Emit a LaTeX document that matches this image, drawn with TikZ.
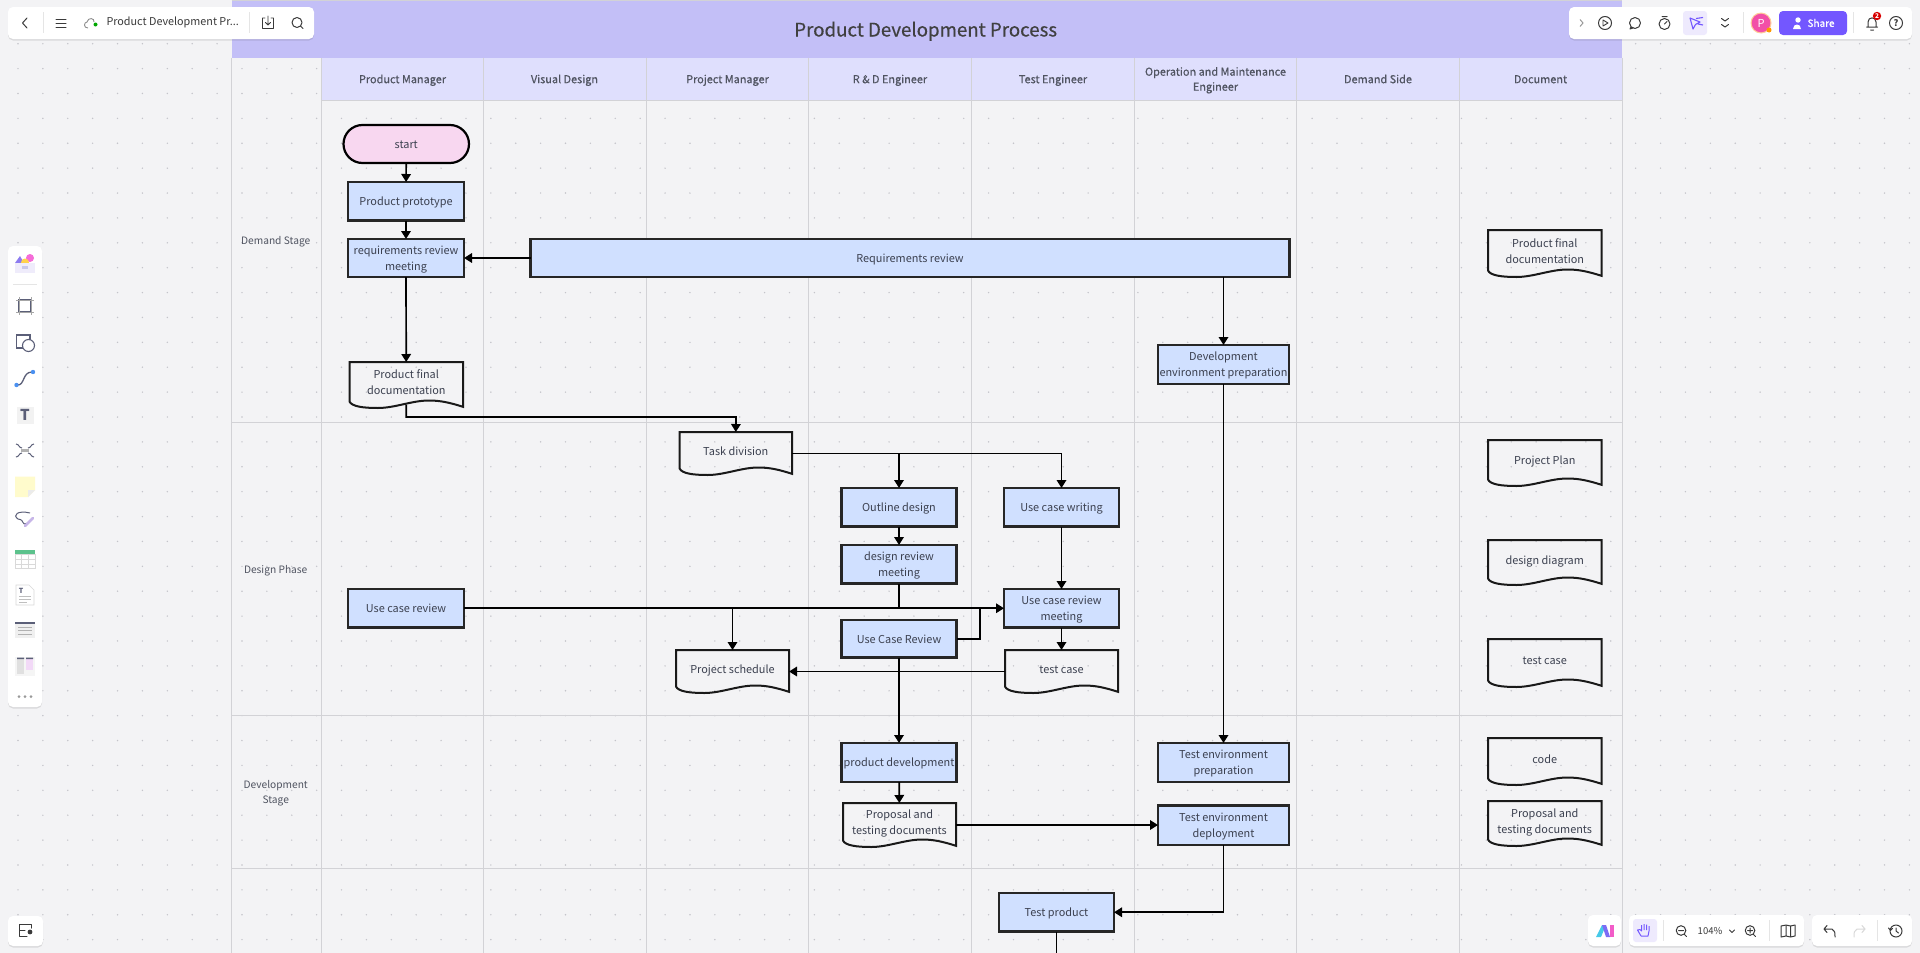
\documentclass[tikz,border=0pt]{standalone}
\usepackage{fontspec}
\setmainfont{Noto Sans CJK SC}
\newfontfamily\medf[FakeBold=0.5]{Noto Sans CJK SC}
\usetikzlibrary{arrows.meta,calc,shadows}
\definecolor{bgc}{HTML}{F3F3F5}
\definecolor{titlec}{HTML}{C3BFF7}
\definecolor{headc}{HTML}{DFDFFD}
\definecolor{gridc}{HTML}{D2D2D6}
\definecolor{dotc}{HTML}{C4C4CA}
\definecolor{boxc}{HTML}{D0E0FF}
\definecolor{startc}{HTML}{F8D7F0}
\definecolor{txtc}{HTML}{3C4150}
\definecolor{iconc}{HTML}{3A3A3A}
\definecolor{purp}{HTML}{7357FF}
\definecolor{pale}{HTML}{EEEAFD}
\definecolor{iconb}{HTML}{5B5F78}
\definecolor{cavatar}{HTML}{F24FA7}
\definecolor{cviolet}{HTML}{8C7BF0}
\definecolor{cpink}{HTML}{F56CD8}
\definecolor{cyell}{HTML}{FFD24C}
\definecolor{cpalette}{HTML}{EFECFB}
\definecolor{cpalin}{HTML}{C9C8EA}
\definecolor{cblue}{HTML}{4A90F0}
\definecolor{csticky}{HTML}{FFFBCC}
\definecolor{cpen}{HTML}{C7B6E8}
\definecolor{cgreen}{HTML}{5CC28C}
\definecolor{clilac}{HTML}{F2D9F7}
\definecolor{ccyan}{HTML}{46C9E8}
\definecolor{cindigo}{HTML}{7C6CF5}
\definecolor{cmag}{HTML}{F25CC8}
\newcommand{\tl}[1]{\raisebox{-1.2pt}[\height][\depth]{\begin{tabular}{@{}c@{}}#1\end{tabular}}}
\tikzset{
  base/.style={inner sep=0pt,outer sep=0pt,text=txtc,align=center,font=\fontsize{10.9}{16}\selectfont},
  flowbox/.style={base,draw=black!85,line width=2.2pt,fill=boxc},
  startbox/.style={base,draw=black,line width=2.2pt,fill=startc,rounded corners=19pt},
  docbox/.style={base},
  docline/.style={draw=black!90,line width=2pt,line join=miter},
  link/.style={draw=black,line width=1.7pt},
  arrowlink/.style={link,-{Triangle[length=8pt,width=9.5pt]}},
  pool/.style={draw=gridc,line width=1pt},
  head/.style={base,text=txtc!90,font=\medf\fontsize{10.9}{15}\selectfont},
  lane/.style={base,text=txtc!90,font=\fontsize{10.2}{15}\selectfont},
  panel/.style={fill=white,rounded corners=5pt,draw=none,drop shadow={shadow xshift=0pt,shadow yshift=-1.5pt,opacity=.10,fill=black}},
  ico/.style={draw=iconc,line width=1pt,line cap=round,line join=round},
  sep/.style={draw=black!10,line width=.8pt},
  uitext/.style={inner sep=0pt,outer sep=0pt,text=iconc},
}
% name, x1, y1, x2, y2, text
\newcommand{\boxnode}[7][flowbox]{%
  \pgfmathsetmacro{\cxx}{(#3+#5)/2}\pgfmathsetmacro{\cyy}{(#4+#6)/2}%
  \pgfmathsetmacro{\www}{#5-#3}\pgfmathsetmacro{\hhh}{#6-#4}%
  \node[#1,minimum width=\www pt,minimum height=\hhh pt] (#2) at (\cxx,\cyy) {\tl{#7}};}
\newcommand{\docnode}[6]{%
  \pgfmathsetmacro{\cxx}{(#2+#4)/2}\pgfmathsetmacro{\cyy}{(#3+#5)/2}%
  \pgfmathsetmacro{\www}{#4-#2}\pgfmathsetmacro{\hhh}{#5-#3}%
  \node[docbox,minimum width=\www pt,minimum height=\hhh pt] (#1) at (\cxx,\cyy)
     {\tl{#6\\[5pt]}};
  \draw[docline] (#1.north west) -- (#1.north east) -- ($(#1.south east)+(0,-1.2)$)
    .. controls ($(#1.south east)+(-.12*\www,-5.5)$) and ($(#1.south east)+(-.2*\www,-7.5)$) .. ($(#1.south)+(.2*\www,-7.5)$)
    .. controls ($(#1.south)+(.05*\www,-7.5)$) and ($(#1.south)+(-.1*\www,0)$) .. ($(#1.south west)+(.25*\www,0)$)
    .. controls ($(#1.south west)+(.12*\www,0)$) and ($(#1.south west)+(.02*\www,-1.5)$) .. ($(#1.south west)+(0,-6.5)$)
    -- cycle;
  \coordinate (#1b) at ($(#1.south)+(0,-3.5)$);}
\begin{document}
\begin{tikzpicture}[x=1pt,y=-1pt]
\useasboundingbox (0,0) rectangle (1920,953);
\clip (0,0) rectangle (1920,953);
\fill[bgc] (0,0) rectangle (1920,953);
% dot grid
\foreach \i in {0,...,76}{\foreach \j in {0,...,37}{
  \fill[dotc] ({18+24.887*\i},{43.7+24.887*\j-24.887}) circle (.8pt);}}
% title and header bands
\fill[titlec] (231.5,0) rectangle (1622,57.5);
\fill[headc] (321.5,57.5) rectangle (1622,100.5);
\draw[gridc,line width=1pt] (231.5,.5) -- (1622,.5);
% pool lines
\foreach \x in {231.5,321.5,483.7,646.5,808.8,971.7,1134,1296.7,1459.6,1622}
  \draw[pool] (\x,57.5) -- (\x,953);
\foreach \y in {422.5,715,868.5} \draw[pool] (231.5,\y) -- (1622,\y);
\draw[pool] (321.5,100.5) -- (1622,100.5);
% title
\node[base,text=black!75,font=\medf\fontsize{18.7}{24}\selectfont] (title) at (925.7,30.5) {\tl{Product Development Process}};
% headers
\node[head] (h1) at (402.5,79) {\tl{Product Manager}};
\node[head] (h2) at (564.5,79) {\tl{Visual Design}};
\node[head] (h3) at (727.5,79) {\tl{Project Manager}};
\node[head] (h4) at (890,79) {\tl{R \& D Engineer}};
\node[head] (h5) at (1053,79) {\tl{Test Engineer}};
\node[head] (h6) at (1215.5,79) {\tl{Operation and Maintenance\\Engineer}};
\node[head] (h7) at (1378,79) {\tl{Demand Side}};
\node[head] (h8) at (1540.5,79) {\tl{Document}};
% lanes
\node[lane] (l1) at (275.7,240) {\tl{Demand Stage}};
\node[lane] (l2) at (275.7,569) {\tl{Design Phase}};
\node[lane] (l3) at (275.7,791.5) {\tl{Development\\Stage}};
% flow nodes
\boxnode[startbox]{start}{343.5}{125}{469}{163}{start}
\boxnode{proto}{348}{182}{464}{220.5}{Product prototype}
\boxnode{reqm}{348}{239}{464}{277}{requirements review\\meeting}
\boxnode{rev}{530.5}{239}{1289.5}{277}{Requirements review}
\docnode{pfd}{349.5}{362}{463}{408}{Product final\\documentation}
\boxnode{dev}{1158}{345}{1289}{384}{Development\\environment preparation}
\docnode{task}{679.6}{432}{792}{475}{Task division}
\boxnode{outl}{841.5}{488}{956.5}{526.5}{Outline design}
\boxnode{ucw}{1004}{488}{1119}{526.5}{Use case writing}
\boxnode{drm}{841.5}{545}{956.5}{583.5}{design review\\meeting}
\boxnode{ucr}{348}{589}{464}{627.5}{Use case review}
\boxnode{ucm}{1004}{589}{1119}{627.5}{Use case review\\meeting}
\boxnode{ucb}{841.5}{620}{956.5}{657.5}{Use Case Review}
\docnode{ps}{676}{650}{789}{693}{Project schedule}
\docnode{tc}{1005}{650}{1118}{693}{test case}
\boxnode{pd}{841.5}{743}{956.5}{782}{product development}
\docnode{ptd}{843}{803}{956}{847}{Proposal and\\testing documents}
\boxnode{tep}{1158}{743}{1289}{782}{Test environment\\preparation}
\boxnode{ted}{1158}{805.5}{1289}{845}{Test environment\\deployment}
\boxnode{tp}{999}{893}{1114}{931.5}{Test product}
% document column
\docnode{d1}{1488}{230}{1601.5}{277}{Product final\\documentation}
\docnode{d2}{1488}{440}{1601.5}{486}{Project Plan}
\docnode{d3}{1488}{540}{1601.5}{585}{design diagram}
\docnode{d4}{1488}{639}{1601.5}{687}{test case}
\docnode{d5}{1488}{738}{1601.5}{785}{code}
\docnode{d6}{1488}{801}{1601.5}{846}{Proposal and\\testing documents}
% connectors
\coordinate (pfdturn) at (736,417);
\coordinate (ucbturn) at (980,638.8);
\coordinate (tpout) at (1056.5,966);
\draw[arrowlink] (start) -- (proto);
\draw[arrowlink] (proto) -- (reqm);
\draw[arrowlink] (rev.west) -- (reqm.east);
\draw[arrowlink] (reqm) -- (pfd);
\draw[arrowlink] (rev.south -| dev.north) -- (dev.north);
\draw[arrowlink] (pfdb) |- (pfdturn) -- (task.north);
\draw[arrowlink] (task.east) -| (outl.north);
\draw[arrowlink] (task.east) -| (ucw.north);
\draw[arrowlink] (outl) -- (drm);
\draw[arrowlink] (ucw) -- (ucm);
\draw[arrowlink] (ucr.east) -- (ucm.west);
\draw[link] (drm.south) -- (drm.south |- ucm.west);
\draw[arrowlink] (ps.north |- ucm.west) -- (ps.north);
\draw[link] (ucb.east |- ucbturn) -- (ucbturn) -- (ucbturn |- ucm.west);
\draw[arrowlink] (ucm) -- (tc);
\draw[arrowlink] (tc.west) -- (ps.east);
\draw[arrowlink] (ucb) -- (pd);
\draw[arrowlink] (pd) -- (ptd);
\draw[arrowlink] (ptd.east) -- (ptd.east -| ted.west);
\draw[arrowlink] (dev) -- (tep);
\draw[arrowlink] (ted.south) |- (tp.east);
\draw[arrowlink] (tp.south) -- (tpout);
% ------------ UI chrome ------------
\fill[panel] (8,7) rectangle (314,39);
\fill[panel] (1569,7) rectangle (1912,39);
\fill[panel] (8,246) rectangle (42,707);
\fill[panel] (8,916) rectangle (43,946);
\fill[panel] (1588,915) rectangle (1621,946);
\fill[panel] (1629,915) rectangle (1804,946);
\fill[panel] (1812,915) rectangle (1912,946);
% top left
\draw[ico] (27,18) -- (22.5,23) -- (27,28);
\draw[sep] (43.5,12) -- (43.5,33);
\draw[ico] (56,19) -- (66,19) (56,23) -- (66,23) (56,27) -- (66,27);
\draw[draw=black!45,line width=.9pt] (88,28) .. controls (83,28) and (84,22) .. (87,22) .. controls (88,17) and (95,18) .. (94,22);
\fill[green!65!black] (95.5,24.5) circle (2pt);
\node[uitext,anchor=west,font=\fontsize{10.8}{14}\selectfont] (doctitle) at (106.5,22.5) {Product Development Pr...};
\draw[sep] (249,12) -- (249,33);
\draw[ico,line width=.9pt] (265,18) -- (262.5,18) -- (262.5,28.5) -- (273.5,28.5) -- (273.5,18) -- (271,18) (268,16) -- (268,25) (265.5,22.5) -- (268,25) -- (270.5,22.5);
\draw[ico] (297,22.5) circle (5pt) (300.5,26) -- (303,28.5);
% top right
\draw[draw=black!40,line width=1pt] (1580,19.5) -- (1583,23) -- (1580,26.5);
\draw[ico] (1605,23) circle (6.5pt);
\draw[ico,line width=.9pt,line join=round] (1603,20) -- (1608,23) -- (1603,26) -- cycle;
\draw[ico] (1635,23) circle (5.5pt) (1631,27) -- (1630,29) -- (1633,28);
\draw[ico] (1664.5,24) circle (5.5pt) (1662,16.5) -- (1667,16.5) (1664.5,24) -- (1667,21.5);
\fill[pale,rounded corners=3pt] (1683,11) rectangle (1707,35);
\draw[draw=purp,line width=1.1pt,line join=round] (1690,18) -- (1693,29) -- (1695.5,24.5) -- (1700,22) -- cycle (1696,18.5) -- (1703,17.5) (1698,24) -- (1703,25);
\draw[ico] (1721.5,18.5) -- (1725,21) -- (1728.5,18.5) (1721.5,24.5) -- (1725,27) -- (1728.5,24.5);
\draw[sep] (1743.5,12) -- (1743.5,33);
\fill[orange!40] (1761,23) circle (10.5pt);
\fill[cavatar] (1761,23) circle (9.3pt);
\node[uitext,text=white,font=\fontsize{11}{12}\selectfont] (avatar) at (1761,23) {P};
\fill[orange!80!yellow] (1769,30) circle (2.5pt);
\fill[purp,rounded corners=4pt] (1779,11) rectangle (1847,35);
\fill[white] (1798,20) circle (2.7pt) (1793,29) .. controls (1793,23) and (1801,23) .. (1801,29) -- cycle;
\node[uitext,text=white,font=\medf\fontsize{10}{12}\selectfont] (share) at (1821,23) {Share};
\draw[sep] (1853.5,12) -- (1853.5,33);
\draw[ico] (1866.5,27) -- (1877.5,27) (1868,27) -- (1868,22) .. controls (1868,16.5) and (1876,16.5) .. (1876,22) -- (1876,27) (1870.5,30) -- (1873.5,30);
\fill[red!85!black] (1877,16) circle (4.2pt);
\node[uitext,text=white,font=\fontsize{6.5}{7}\selectfont\bfseries] (badge) at (1877,16) {2};
\draw[ico] (1896,23) circle (6.5pt);
\node[uitext,font=\fontsize{9}{10}\selectfont\bfseries] (help) at (1896,23) {?};
% left bar
\fill[cviolet] (20,256) -- (24,263) -- (15,263) -- cycle;
\fill[cpink] (30,258) circle (4pt);
\fill[cyell] (25,262.5) circle (4pt);
\fill[cpalette] (15,263) rectangle (35,273);
\fill[cpalin] (22,266) rectangle (28,269);
\draw[sep] (13,284) -- (37,284);
\draw[iconb,line width=1.4pt] (19,300) rectangle (31,312);
\draw[black!35,line width=.8pt] (19,297) -- (19,315) (31,297) -- (31,315) (16,300) -- (34,300) (16,312) -- (34,312);
\draw[iconb,line width=1.1pt,fill=white] (16.5,335) rectangle (30,348);
\draw[iconb,line width=1.1pt,fill=white] (28.5,345.5) circle (6pt);
\draw[iconb,line width=1.3pt] (17,385) .. controls (25,386) and (22,372) .. (32,372);
\fill[cblue] (16.5,385) circle (2.2pt) (33,372) circle (2.2pt);
\fill[black!5] (16,406) rectangle (34,424);
\draw[white,line width=1pt] (16,406) rectangle (34,424);
\node[uitext,text=iconb,font=\fontsize{15}{16}\selectfont\bfseries] (ttool) at (25,415) {T};
\draw[iconb,line width=1pt] (16,444) .. controls (19,444) and (19,448) .. (22,448) (34,444) .. controls (31,444) and (31,448) .. (28,448) (16,457) .. controls (19,457) and (19,453) .. (22,453) (34,457) .. controls (31,457) and (31,453) .. (28,453);
\fill[black!30] (21,449) rectangle (29,452);
\fill[csticky] (15,476.5) -- (35,476.5) -- (35,490) -- (28,497) -- (15,497) -- cycle;
\fill[black!8] (35,490) -- (28,490) -- (28,497) -- cycle;
\draw[iconb,line width=1pt] (30,513) .. controls (18,510) and (12,515) .. (18,519) .. controls (26,520) and (20,526) .. (28,523);
\draw[cpen,line width=2.6pt,line cap=round] (25,526) -- (33,518);
\fill[cgreen] (15,550) rectangle (35,554);
\fill[white] (15,554) rectangle (35,568);
\draw[black!15,line width=.6pt] (15,554) rectangle (35,568) (15,559) -- (35,559) (15,564) -- (35,564) (21.5,554) -- (21.5,568) (28.5,554) -- (28.5,568);
\fill[white] (16,585) -- (29,585) -- (34,590) -- (34,605) -- (16,605) -- cycle;
\draw[black!15,line width=.6pt] (16,585) -- (29,585) -- (34,590) -- (34,605) -- (16,605) -- cycle;
\node[uitext,text=iconb,font=\fontsize{7}{8}\selectfont\bfseries] (dtool) at (21,590.5) {T};
\draw[black!25,line width=.8pt] (19,596) -- (31,596) (19,599) -- (31,599) (19,602) -- (27,602);
\fill[iconb] (15,622) rectangle (35,623.5);
\fill[black!6] (15,623.5) rectangle (35,638);
\draw[black!30,line width=.7pt] (18,627) -- (32,627) (18,630.5) -- (32,630.5) (18,634) -- (32,634);
\fill[black!4] (15,657) rectangle (35,676);
\fill[black!12] (17,659) rectangle (24,674);
\fill[clilac] (26,659) rectangle (33,670);
\fill[iconb] (17,657.5) rectangle (24,659) (26,657.5) rectangle (33,659);
\fill[black!40] (19,696.7) circle (1.5pt) (25,696.7) circle (1.5pt) (31,696.7) circle (1.5pt);
% bottom left
\draw[ico,line width=1pt] (25,930) -- (19,930) -- (19,924) -- (31,924) -- (31,928);
\fill[iconc] (30,932) circle (2.4pt);
\draw[ico,line width=1pt] (19,930) -- (19,936) -- (27,936);
% bottom right
\fill[ccyan] (1596,937) -- (1602,925) -- (1606,925) -- (1601,937) -- cycle;
\fill[cindigo] (1602,925) -- (1606,925) -- (1610,937) -- (1606,937) -- cycle;
\fill[cmag] (1610,925) -- (1614,925) -- (1614,937) -- (1610,937) -- cycle;
\fill[pale,rounded corners=3pt] (1633,919) rectangle (1657,942);
\draw[draw=purp,line width=1pt,line join=round] (1641,936) -- (1637.5,930) -- (1640,929.5) -- (1641.5,931) -- (1641.5,925) (1644,924) -- (1644,930) (1646.5,924.5) -- (1646.5,930) (1649,926) -- (1649,931) -- (1648,936) -- (1641,936);
\draw[sep] (1663.5,920) -- (1663.5,941);
\draw[ico] (1681,930.5) circle (4.8pt) (1684.5,934.5) -- (1686.5,936.5) (1678.5,930.5) -- (1683.5,930.5);
\node[uitext,font=\fontsize{9.5}{12}\selectfont] (zoomval) at (1710,931) {104\%};
\draw[ico,line width=.9pt] (1729.5,930) -- (1732,932.5) -- (1734.5,930);
\draw[ico] (1750,930.5) circle (4.8pt) (1753.5,934.5) -- (1755.5,936.5) (1747.5,930.5) -- (1752.5,930.5) (1750,928) -- (1750,933);
\draw[sep] (1769.5,920) -- (1769.5,941);
\draw[ico] (1781,926) -- (1786,925) -- (1790.5,926) -- (1795,925) -- (1795,936) -- (1790.5,937) -- (1786,936) -- (1781,937) -- cycle (1786,925) -- (1786,936) (1790.5,926) -- (1790.5,937);
\draw[ico] (1824,929) -- (1832,929) .. controls (1835,930) and (1835,933) .. (1835,937) (1827,925.5) -- (1824,929) -- (1827,932.5);
\draw[ico,draw=black!15] (1865,929) -- (1857,929) .. controls (1854,930) and (1854,933) .. (1854,937) (1862,925.5) -- (1865,929) -- (1862,932.5);
\draw[sep] (1877.5,920) -- (1877.5,941);
\draw[ico] (1896,931) circle (6pt) (1896,928) -- (1896,931) -- (1898.5,933) (1888.5,928) -- (1890.5,930.5) -- (1892.5,928.5);
\end{tikzpicture}
\end{document}
